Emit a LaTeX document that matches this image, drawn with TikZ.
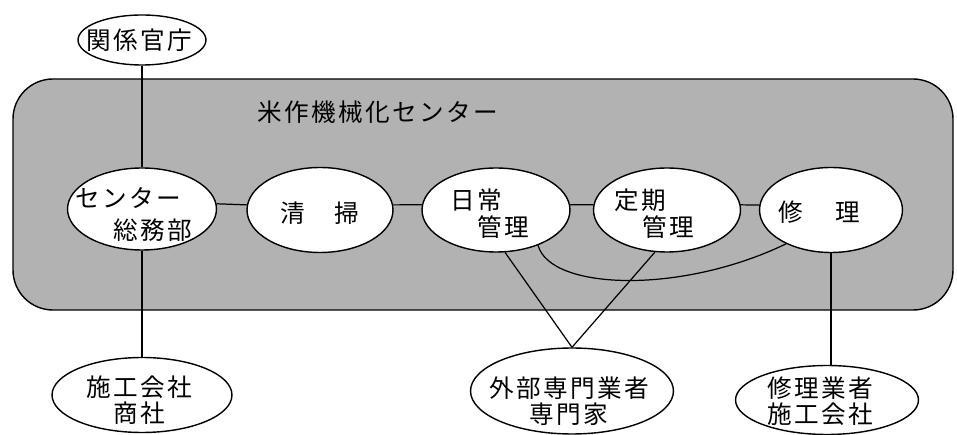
\documentclass[tikz,border=0pt]{standalone}
\usepackage{fontspec}
\newfontfamily\cjk[LetterSpace=10]{Noto Sans CJK JP}
\usetikzlibrary{shapes.geometric}
\tikzset{
  el/.style={ellipse, draw, line width=0.8pt, fill=white, inner sep=0pt},
  tx/.style={font=\cjk\fontsize{14}{15}\selectfont, inner sep=0pt, align=center},
  ln/.style={line width=0.7pt},
}
\begin{document}
\begin{tikzpicture}[x=0.02cm,y=-0.02cm]
\useasboundingbox (0,0) rectangle (957,435);
% band
\draw[line width=0.8pt, fill=black!30, rounded corners=0.8cm] (13,79) rectangle (953,310);
\node[tx, anchor=west] (title) at (257,112) {米作機械化センター};
% ellipses in band
\node[el, minimum width=2.98cm, minimum height=1.64cm] (somu) at (142,209) {};
\node[el, minimum width=2.92cm, minimum height=1.70cm] (seiso) at (320,210) {};
\node[el, minimum width=2.96cm, minimum height=1.68cm] (nichijo) at (496,210) {};
\node[el, minimum width=2.94cm, minimum height=1.68cm] (teiki) at (667,210) {};
\node[el, minimum width=2.86cm, minimum height=1.70cm] (shuri) at (831,210) {};
% outer ellipses
\node[el, minimum width=2.56cm, minimum height=1.00cm] (kankei) at (142,40) {};
\node[el, minimum width=3.60cm, minimum height=1.50cm] (shoko) at (142,395) {};
\node[el, minimum width=4.06cm, minimum height=1.72cm] (gaibu) at (572,391) {};
\node[el, minimum width=3.66cm, minimum height=1.38cm] (shurigyo) at (827,400) {};
% texts
\node[tx] (t1) at (128,198) {センター};
\node[tx] (t2) at (153,230) {総務部};
\node[tx] (t3) at (293,213) {清};
\node[tx] (t4) at (347,213) {掃};
\node[tx] (t5) at (476,200) {日常};
\node[tx] (t6) at (503,227) {管理};
\node[tx] (t7) at (640,200) {定期};
\node[tx] (t8) at (668,227) {管理};
\node[tx] (t9) at (791,212) {修};
\node[tx] (t10) at (848,212) {理};
\node[tx] (t11) at (139,40) {関係官庁};
\node[tx] (t12) at (139,400) {施工会社\\商社};
\node[tx] (t13) at (569,401) {外部専門業者\\専門家};
\node[tx] (t14) at (820,401) {修理業者\\施工会社};
% connectors
\draw[ln] (kankei.south) -- (somu.north);
\draw[ln] (somu.south) -- (shoko.north);
\draw[ln] (somu.4) -- (seiso.176);
\draw[ln] (seiso.4) -- (nichijo.176);
\draw[ln] (nichijo.4) -- (teiki.176);
\draw[ln] (teiki.4) -- (shuri.176);
\draw[ln] (shuri.south) -- (shuri.south |- shurigyo.north);
\draw[ln] (nichijo.-78) -- (gaibu.north);
\draw[ln] (teiki.-106) -- (gaibu.north);
\draw[ln] (nichijo.-40) .. controls (550,290) and (680,295) .. (shuri.-143);
\end{tikzpicture}
\end{document}
